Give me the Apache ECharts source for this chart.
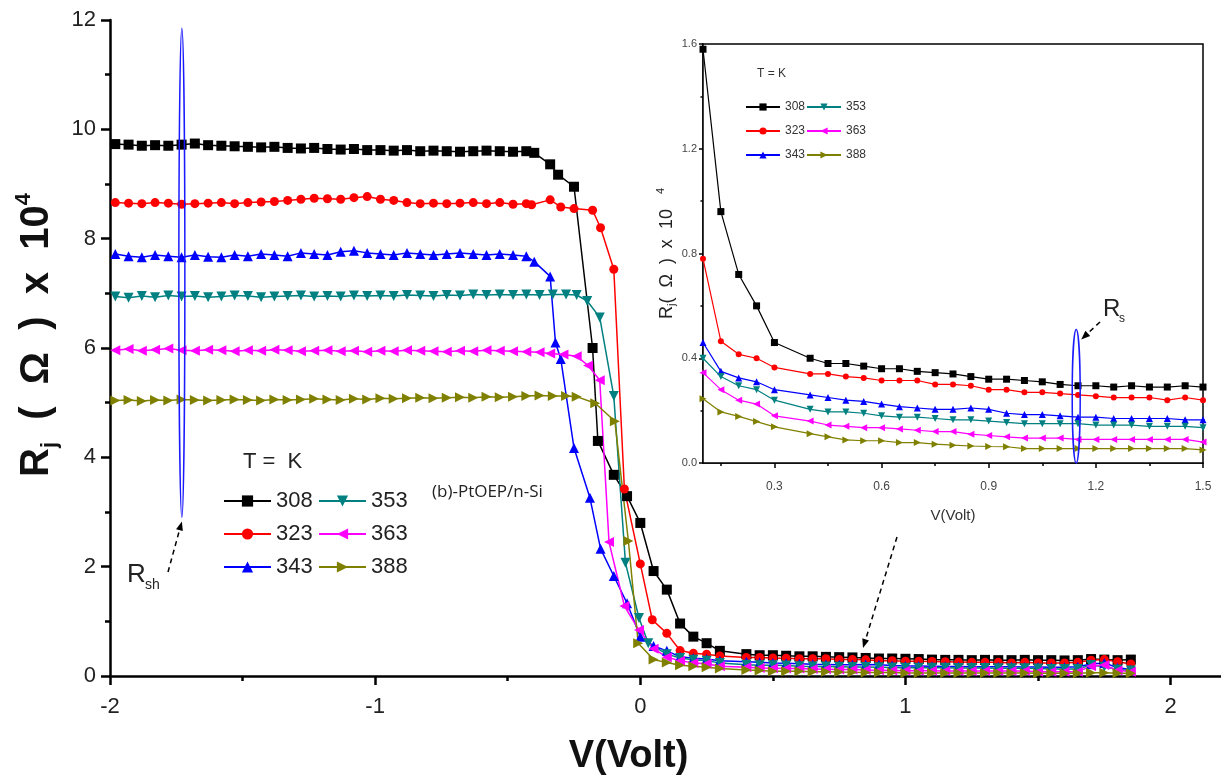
<!DOCTYPE html>
<html><head><meta charset="utf-8">
<script src="https://cdn.jsdelivr.net/npm/echarts@6/dist/echarts.min.js"></script>
<style>html,body{margin:0;padding:0;background:#fff}#c{width:1221px;height:783px}</style>
</head><body><div id="c"></div>
<script>
// ---------------- DATA ----------------
const temps = ['308', '323', '343', '353', '363', '388'];

// shared voltages of the flat (reverse-bias) part
const vFlat = [-1.98,-1.93,-1.88,-1.83,-1.78,-1.73,-1.68,-1.63,-1.58,-1.53,-1.48,-1.43,-1.38,-1.33,-1.28,-1.23,-1.18,-1.13,-1.08,-1.03,-0.98,-0.93,-0.88,-0.83,-0.78,-0.73,-0.68,-0.63,-0.58,-0.53,-0.48];
// shared voltages of the forward-bias tail
const vHigh = [0.1,0.15,0.2,0.25,0.3,0.4,0.45,0.5,0.55,0.6,0.65,0.7,0.75,0.8,0.85,0.9,0.95,1.0,1.05,1.1,1.15,1.2,1.25,1.3,1.35,1.4,1.45,1.5,1.55,1.6,1.65,1.7,1.75,1.8,1.85];

const flat308 = [9.73,9.72,9.70,9.71,9.70,9.72,9.74,9.71,9.70,9.69,9.68,9.67,9.68,9.66,9.65,9.66,9.64,9.63,9.64,9.62,9.62,9.61,9.62,9.60,9.61,9.60,9.59,9.60,9.61,9.60,9.59];
const flat323 = [8.66,8.65,8.64,8.66,8.65,8.63,8.64,8.65,8.66,8.64,8.66,8.67,8.68,8.70,8.72,8.74,8.73,8.72,8.75,8.77,8.72,8.70,8.66,8.64,8.65,8.64,8.65,8.66,8.64,8.66,8.63];
const flat343 = [7.72,7.68,7.66,7.70,7.68,7.66,7.70,7.67,7.66,7.70,7.68,7.72,7.70,7.68,7.74,7.72,7.70,7.76,7.78,7.74,7.72,7.70,7.74,7.72,7.70,7.72,7.74,7.72,7.70,7.72,7.70];
const flat353 = [6.94,6.92,6.95,6.93,6.96,6.94,6.95,6.93,6.94,6.96,6.95,6.93,6.94,6.95,6.96,6.94,6.95,6.94,6.96,6.95,6.96,6.95,6.97,6.96,6.95,6.97,6.96,6.98,6.97,6.98,6.97];
const flat363 = [5.96,5.98,5.95,5.97,5.99,5.96,5.95,5.97,5.96,5.94,5.96,5.95,5.97,5.96,5.94,5.95,5.96,5.94,5.95,5.93,5.95,5.94,5.96,5.95,5.94,5.93,5.95,5.94,5.96,5.95,5.94];
const flat388 = [5.04,5.05,5.03,5.05,5.04,5.06,5.05,5.04,5.05,5.06,5.05,5.04,5.06,5.05,5.06,5.07,5.06,5.05,5.07,5.06,5.08,5.07,5.08,5.09,5.08,5.09,5.10,5.09,5.11,5.10,5.11];

// transition region (own voltages per curve)
const tV308 = [-0.43,-0.40,-0.34,-0.31,-0.25,-0.18,-0.16,-0.10,-0.05,0.0,0.05];
const tR308 = [9.60,9.57,9.36,9.17,8.95,6.00,4.30,3.68,3.29,2.80,1.92];
const tV323 = [-0.43,-0.41,-0.34,-0.30,-0.25,-0.18,-0.15,-0.10,-0.06,0.0,0.045];
const tR323 = [8.64,8.62,8.71,8.58,8.55,8.52,8.20,7.44,3.42,2.05,1.03];
const tV343 = [-0.43,-0.40,-0.34,-0.32,-0.30,-0.25,-0.19,-0.15,-0.10,-0.05,0.0,0.05];
const tR343 = [7.68,7.58,7.31,6.10,5.80,4.17,3.26,2.33,1.83,1.33,0.72,0.55];
const tV353 = [-0.43,-0.38,-0.33,-0.28,-0.24,-0.20,-0.153,-0.10,-0.056,-0.005,0.03];
const tR353 = [6.98,6.97,6.98,6.98,6.97,6.86,6.56,5.12,2.07,1.06,0.60];
const tV363 = [-0.43,-0.38,-0.34,-0.29,-0.24,-0.197,-0.153,-0.118,-0.06,-0.005,0.05];
const tR363 = [5.93,5.92,5.90,5.88,5.85,5.68,5.41,2.45,1.28,0.84,0.50];
const tV388 = [-0.43,-0.38,-0.33,-0.28,-0.24,-0.17,-0.096,-0.045,-0.008,0.05];
const tR388 = [5.12,5.13,5.12,5.12,5.11,4.99,4.66,2.47,0.60,0.30];

const high308 = [1.58,0.96,0.72,0.60,0.46,0.40,0.38,0.38,0.37,0.36,0.36,0.35,0.345,0.34,0.33,0.32,0.32,0.315,0.31,0.30,0.295,0.295,0.29,0.295,0.29,0.29,0.295,0.29,0.29,0.285,0.29,0.31,0.30,0.29,0.30];
const high323 = [0.78,0.465,0.415,0.40,0.365,0.34,0.34,0.33,0.325,0.315,0.315,0.315,0.30,0.30,0.295,0.28,0.28,0.27,0.27,0.265,0.26,0.255,0.25,0.25,0.25,0.24,0.25,0.24,0.24,0.24,0.25,0.29,0.30,0.26,0.22];
const high343 = [0.46,0.35,0.325,0.31,0.28,0.26,0.25,0.24,0.235,0.225,0.215,0.21,0.205,0.205,0.21,0.205,0.19,0.185,0.185,0.18,0.175,0.175,0.17,0.17,0.17,0.17,0.165,0.165,0.16,0.16,0.17,0.22,0.24,0.15,0.12];
const high353 = [0.40,0.33,0.295,0.28,0.24,0.205,0.195,0.195,0.19,0.18,0.175,0.175,0.17,0.165,0.165,0.16,0.155,0.15,0.15,0.15,0.15,0.145,0.145,0.145,0.14,0.14,0.14,0.135,0.13,0.13,0.13,0.20,0.17,0.12,0.10];
const high363 = [0.345,0.28,0.24,0.225,0.18,0.16,0.145,0.14,0.135,0.135,0.13,0.125,0.12,0.12,0.11,0.105,0.10,0.095,0.095,0.095,0.09,0.09,0.09,0.09,0.09,0.09,0.09,0.08,0.08,0.08,0.08,0.18,0.20,0.10,0.08];
const high388 = [0.245,0.195,0.178,0.158,0.138,0.112,0.10,0.088,0.085,0.085,0.078,0.078,0.072,0.068,0.065,0.063,0.062,0.055,0.055,0.055,0.055,0.055,0.055,0.055,0.055,0.055,0.055,0.05,0.05,0.05,0.05,0.06,0.06,0.05,0.05];

const mainXLabels = [-2, -1, 0, 1, 2];
const mainXMinor = [-1.5, -0.5, 0.5, 1.5];
const mainYMinor = [1, 3, 5, 7, 9, 11];
const insetXLabels = [0.3, 0.6, 0.9, 1.2, 1.5];
const insetXMinor = [0.15, 0.45, 0.75, 1.05, 1.35];
const insetYMinor = [0.2, 0.6, 1.0, 1.4];

// ---------------- STYLE ----------------
const curves = {
  '308': {flat: flat308, tv: tV308, tr: tR308, high: high308, color: '#000000', symbol: 'rect', rot: 0},
  '323': {flat: flat323, tv: tV323, tr: tR323, high: high323, color: '#ff0000', symbol: 'circle', rot: 0},
  '343': {flat: flat343, tv: tV343, tr: tR343, high: high343, color: '#0000ff', symbol: 'triangle', rot: 0},
  '353': {flat: flat353, tv: tV353, tr: tR353, high: high353, color: '#008080', symbol: 'triangle', rot: 180},
  '363': {flat: flat363, tv: tV363, tr: tR363, high: high363, color: '#ff00ff', symbol: 'triangle', rot: 90},
  '388': {flat: flat388, tv: tV388, tr: tR388, high: high388, color: '#808000', symbol: 'triangle', rot: -90}
};
const FONT = "'Liberation Sans', Arial, sans-serif";

function buildData(c) {
  const d = [];
  vFlat.forEach((v, i) => d.push([v, c.flat[i]]));
  c.tv.forEach((v, i) => d.push([v, c.tr[i]]));
  vHigh.forEach((v, i) => d.push([v, c.high[i]]));
  return d;
}

const series = [];
temps.forEach(t => {
  const c = curves[t];
  const data = buildData(c);
  series.push({
    name: t, type: 'line', xAxisIndex: 0, yAxisIndex: 0, data: data,
    symbol: c.symbol, symbolRotate: c.rot, symbolSize: c.symbol === 'circle' ? 9 : 10,
    lineStyle: {color: c.color, width: 1.5}, itemStyle: {color: c.color},
    showAllSymbol: true, animation: false, z: 3
  });
  series.push({
    name: 'i' + t, type: 'line', xAxisIndex: 2, yAxisIndex: 2,
    data: data.filter(p => p[0] >= 0.05 && p[0] <= 1.55),
    symbol: c.symbol, symbolRotate: c.rot, symbolSize: c.symbol === 'circle' ? 6 : 7,
    lineStyle: {color: c.color, width: 1.2}, itemStyle: {color: c.color},
    showAllSymbol: true, animation: false, clip: true, z: 5
  });
});

function minorAxis(grid, vals, len, w, pos) {
  return {type: 'value', gridIndex: grid, position: pos,
    axisLine: {show: false, onZero: false}, axisLabel: {show: false}, splitLine: {show: false},
    axisTick: {show: true, customValues: vals, length: len, lineStyle: {color: '#000', width: w}}};
}

const option = {
  animation: false,
  backgroundColor: '#fff',
  textStyle: {fontFamily: FONT},
  grid: [
    {left: 110, right: 0, top: 20, bottom: 107},
    {left: 703, width: 500, top: 44, height: 419, show: true, borderColor: '#000', borderWidth: 1.5, backgroundColor: '#fff', z: 4}
  ],
  xAxis: [
    {type: 'value', gridIndex: 0, min: -2, max: 2.19, position: 'bottom',
      axisLine: {onZero: false, lineStyle: {color: '#000', width: 2.5}},
      axisTick: {customValues: mainXLabels, length: 9, lineStyle: {width: 2.5, color: '#000'}},
      axisLabel: {customValues: mainXLabels, fontSize: 22, color: '#222', margin: 20, fontFamily: FONT},
      splitLine: {show: false},
      name: 'V(Volt)', nameLocation: 'middle', nameGap: 62,
      nameTextStyle: {fontSize: 38, fontWeight: 'bold', color: '#111', fontFamily: FONT, padding: [0, 74, 0, 0]}},
    Object.assign(minorAxis(0, mainXMinor, 5, 2.5, 'bottom'), {min: -2, max: 2.19}),
    {type: 'value', gridIndex: 1, min: 0.1, max: 1.5, position: 'bottom',
      axisLine: {onZero: false, lineStyle: {color: '#000', width: 1.5}},
      axisTick: {customValues: insetXLabels, length: 5, lineStyle: {width: 1.5, color: '#000'}},
      axisLabel: {customValues: insetXLabels, fontSize: 12, color: '#444', margin: 18,
        formatter: v => (+v).toFixed(1), fontFamily: FONT},
      splitLine: {show: false},
      name: 'V(Volt)', nameLocation: 'middle', nameGap: 45,
      nameTextStyle: {fontSize: 15, color: '#333', fontFamily: FONT}},
    Object.assign(minorAxis(1, insetXMinor, 3, 1.5, 'bottom'), {min: 0.1, max: 1.5})
  ],
  yAxis: [
    {type: 'value', gridIndex: 0, min: 0, max: 12, interval: 2, position: 'left',
      axisLine: {show: true, onZero: false, lineStyle: {color: '#000', width: 2.5}},
      axisTick: {show: true, length: 9, lineStyle: {width: 2.5, color: '#000'}},
      axisLabel: {fontSize: 22, color: '#222', margin: 14, fontFamily: FONT},
      splitLine: {show: false},
      name: '{r|R}{s|j}{m|  (  Ω  )  x  10}{p|4}', nameLocation: 'middle', nameGap: 40,
      nameTextStyle: {padding: [0, 0, 0, 26], rich: {
        r: {fontSize: 40, fontWeight: 'bold', color: '#111', lineHeight: 48, fontFamily: FONT},
        m: {fontSize: 40, fontWeight: 'bold', color: '#111', lineHeight: 48, fontFamily: FONT},
        s: {fontSize: 22, fontWeight: 'bold', color: '#111', lineHeight: 22, verticalAlign: 'bottom', fontFamily: FONT},
        p: {fontSize: 22, fontWeight: 'bold', color: '#111', lineHeight: 22, verticalAlign: 'top', fontFamily: FONT}
      }}},
    Object.assign(minorAxis(0, mainYMinor, 5, 2.5, 'left'), {min: 0, max: 12}),
    {type: 'value', gridIndex: 1, min: 0, max: 1.6, interval: 0.4, position: 'left',
      axisLine: {show: true, onZero: false, lineStyle: {color: '#000', width: 1.5}},
      axisTick: {show: true, length: 4, lineStyle: {width: 1.5, color: '#000'}},
      axisLabel: {fontSize: 11, color: '#444', margin: 6, formatter: v => (+v).toFixed(1), fontFamily: FONT},
      splitLine: {show: false},
      name: '{r|R}{s|j}{m|(  Ω  )  x  10   }{p|4}', nameLocation: 'middle', nameGap: 12,
      nameTextStyle: {rich: {
        r: {fontSize: 18, color: '#222', lineHeight: 22, fontFamily: FONT},
        m: {fontSize: 18, color: '#222', lineHeight: 22, fontFamily: FONT},
        s: {fontSize: 11, color: '#222', lineHeight: 11, verticalAlign: 'bottom', fontFamily: FONT},
        p: {fontSize: 11, color: '#222', lineHeight: 11, verticalAlign: 'top', fontFamily: FONT}
      }}},
    Object.assign(minorAxis(1, insetYMinor, 2.5, 1.5, 'left'), {min: 0, max: 1.6})
  ],
  legend: [
    {data: ['308', '323', '343'], left: 218, top: 485, orient: 'vertical', itemWidth: 47, itemHeight: 14, itemGap: 11,
      selectedMode: false, textStyle: {fontSize: 22, color: '#222', fontFamily: FONT}},
    {data: ['353', '363', '388'], left: 313, top: 485, orient: 'vertical', itemWidth: 47, itemHeight: 14, itemGap: 11,
      selectedMode: false, textStyle: {fontSize: 22, color: '#222', fontFamily: FONT}},
    {data: ['i308', 'i323', 'i343'], left: 740, top: 96, orient: 'vertical', itemWidth: 34, itemHeight: 9, itemGap: 12,
      selectedMode: false, formatter: n => n.slice(1), textStyle: {fontSize: 12, color: '#333', fontFamily: FONT}},
    {data: ['i353', 'i363', 'i388'], left: 801, top: 96, orient: 'vertical', itemWidth: 34, itemHeight: 9, itemGap: 12,
      selectedMode: false, formatter: n => n.slice(1), textStyle: {fontSize: 12, color: '#333', fontFamily: FONT}}
  ],
  series: series
};

const chart = echarts.init(document.getElementById('c'));
chart.setOption(option);

// ---------------- ANNOTATIONS ----------------
function arrow(x1, y1, x2, y2, dashed) {
  const ang = Math.atan2(y2 - y1, x2 - x1);
  const L = 9, W = 3.5;
  const bx = x2 - L * Math.cos(ang), by = y2 - L * Math.sin(ang);
  const px = -Math.sin(ang) * W, py = Math.cos(ang) * W;
  return [
    {type: 'line', shape: {x1: x1, y1: y1, x2: bx, y2: by},
      style: {stroke: '#000', lineWidth: 1.5, lineDash: dashed ? [5, 4] : null}, z: 20},
    {type: 'polygon', shape: {points: [[x2, y2], [bx + px, by + py], [bx - px, by - py]]},
      style: {fill: '#000'}, z: 20}
  ];
}
const m = v => chart.convertToPixel({xAxisIndex: 0, yAxisIndex: 0}, v);
const ins = v => chart.convertToPixel({xAxisIndex: 2, yAxisIndex: 2}, v);

const rshTop = m([-1.729, 11.85]), rshBot = m([-1.729, 2.9]);
const rsTop = ins([1.145, 0.51]), rsBot = ins([1.145, 0.0]);

const g = [
  {type: 'ellipse', shape: {cx: rshTop[0], cy: (rshTop[1] + rshBot[1]) / 2, rx: 3, ry: (rshBot[1] - rshTop[1]) / 2},
    style: {fill: 'none', stroke: '#1a1aff', lineWidth: 1.5}, z: 20},
  {type: 'ellipse', shape: {cx: rsTop[0], cy: (rsTop[1] + rsBot[1]) / 2, rx: 4, ry: (rsBot[1] - rsTop[1]) / 2},
    style: {fill: 'none', stroke: '#1a1aff', lineWidth: 1.5}, z: 20},
  {type: 'text', left: 127, top: 562, style: {text: 'R', fontSize: 26, fill: '#222', fontFamily: FONT}, z: 20},
  {type: 'text', left: 145, top: 578, style: {text: 'sh', fontSize: 14, fill: '#222', fontFamily: FONT}, z: 20},
  {type: 'text', left: 1103, top: 297, style: {text: 'R', fontSize: 24, fill: '#222', fontFamily: FONT}, z: 20},
  {type: 'text', left: 1119, top: 313, style: {text: 's', fontSize: 12, fill: '#222', fontFamily: FONT}, z: 20},
  {type: 'text', left: 432, top: 484, style: {text: '(b)-PtOEP/n-Si', fontSize: 17, fill: '#222', fontFamily: "'Open Sans', " + FONT}, z: 20},
  {type: 'text', left: 243, top: 451, style: {text: 'T =  K', fontSize: 22, fill: '#222', fontFamily: FONT}, z: 20},
  {type: 'text', left: 757, top: 68, style: {text: 'T = K', fontSize: 12, fill: '#333', fontFamily: FONT}, z: 20}
].concat(arrow(168, 572, rshBot[0], rshBot[1] + 4, true))
 .concat(arrow(1100, 322, rsTop[0] + 5, rsTop[1] + 10, true))
 .concat(arrow(897, 537, 863, 648, true));

chart.setOption({graphic: g});
</script>
</body></html>
